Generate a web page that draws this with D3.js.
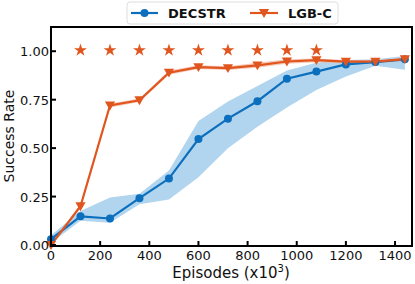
<!DOCTYPE html>
<html>
<head>
<meta charset="utf-8">
<script src="https://d3js.org/d3.v7.min.js"></script>
<style>
  body { margin: 0; background: #fff; }
  text { font-family: "DejaVu Sans", sans-serif; }
</style>
</head>
<body>
<svg id="chart" width="415" height="284"></svg>
<script>
// episodes (x10^3)
var episodes = [0, 120, 240, 360, 480, 600, 720, 840, 960, 1080, 1200, 1320, 1440];
var decstrMean = [0.03, 0.148, 0.137, 0.242, 0.343, 0.547, 0.652, 0.742, 0.858, 0.895, 0.932, 0.944, 0.958];
var decstrLow  = [0.01, 0.125, 0.115, 0.21, 0.235, 0.35, 0.50, 0.61, 0.71, 0.80, 0.87, 0.925, 0.905];
var decstrHigh = [0.05, 0.175, 0.245, 0.265, 0.385, 0.64, 0.74, 0.82, 0.90, 0.94, 0.955, 0.958, 0.975];
var lgbMean = [0.0, 0.2, 0.72, 0.747, 0.889, 0.918, 0.913, 0.927, 0.947, 0.954, 0.946, 0.946, 0.959];
var lgbLow  = [0.0, 0.19, 0.71, 0.738, 0.878, 0.908, 0.903, 0.915, 0.935, 0.943, 0.937, 0.938, 0.95];
var lgbHigh = [0.0, 0.21, 0.73, 0.756, 0.9, 0.928, 0.923, 0.94, 0.958, 0.962, 0.955, 0.953, 0.968];
var starEpisodes = [120, 240, 360, 480, 600, 720, 840, 960, 1080];
var starLevel = 1.005;
var xTicks = [0, 200, 400, 600, 800, 1000, 1200, 1400];
var yTicks = [0, 0.25, 0.5, 0.75, 1.0];

var blue = "#0c6fbd", orange = "#e0561e", bandBlue = "#a9d0ec", bandOrange = "#f2b09a";

var svg = d3.select("#chart");
var pLeft = 51, pRight = 412, pTop = 27, pBottom = 246;

var x = d3.scaleLinear().domain([0, 1469]).range([pLeft, pRight]);
var y = d3.scaleLinear().domain([-0.005, 1.125]).range([pBottom, pTop]);

var area = function (lo, hi) {
  return d3.area().x(function (d, i) { return x(episodes[i]); })
    .y0(function (d, i) { return y(lo[i]); })
    .y1(function (d, i) { return y(hi[i]); })(episodes);
};
var line = d3.line().x(function (d, i) { return x(episodes[i]); }).y(function (d) { return y(d); });

var plot = svg.append("g");
plot.append("path").attr("d", area(decstrLow, decstrHigh)).attr("fill", bandBlue).attr("opacity", 0.9);
plot.append("path").attr("d", area(lgbLow, lgbHigh)).attr("fill", bandOrange).attr("opacity", 0.7);

plot.append("path").attr("d", line(decstrMean)).attr("fill", "none").attr("stroke", blue).attr("stroke-width", 2.2);
plot.append("path").attr("d", line(lgbMean)).attr("fill", "none").attr("stroke", orange).attr("stroke-width", 2.2);

plot.selectAll(".dot").data(decstrMean).enter().append("circle")
  .attr("cx", function (d, i) { return x(episodes[i]); })
  .attr("cy", function (d) { return y(d); })
  .attr("r", 4).attr("fill", blue);

var tri = d3.symbol().type(d3.symbolTriangle).size(45);
plot.selectAll(".tri").data(lgbMean).enter().append("path")
  .attr("d", tri)
  .attr("transform", function (d, i) { return "translate(" + x(episodes[i]) + "," + (y(d) - 1) + ") rotate(180)"; })
  .attr("fill", orange);

var star = d3.symbol().type(d3.symbolStar).size(52);
plot.selectAll(".star").data(starEpisodes).enter().append("path")
  .attr("d", star)
  .attr("transform", function (d) { return "translate(" + x(d) + "," + y(starLevel) + ")"; })
  .attr("fill", orange);

// frame
svg.append("rect").attr("x", pLeft).attr("y", pTop).attr("width", pRight - pLeft).attr("height", pBottom - pTop)
  .attr("fill", "none").attr("stroke", "#000").attr("stroke-width", 2);

// ticks (inward)
var xAxis = svg.append("g");
xTicks.forEach(function (t) {
  xAxis.append("line").attr("x1", x(t)).attr("x2", x(t)).attr("y1", pBottom).attr("y2", pBottom - 5)
    .attr("stroke", "#000").attr("stroke-width", 2);
  xAxis.append("text").attr("x", x(t)).attr("y", 260).attr("text-anchor", "middle")
    .attr("font-size", 13).attr("fill", "#111").text(t);
});
var yAxis = svg.append("g");
yTicks.forEach(function (t) {
  yAxis.append("line").attr("x1", pLeft).attr("x2", pLeft + 5).attr("y1", y(t)).attr("y2", y(t))
    .attr("stroke", "#000").attr("stroke-width", 2);
  yAxis.append("text").attr("x", pLeft - 2).attr("y", y(t) + 5).attr("text-anchor", "end")
    .attr("font-size", 13).attr("fill", "#111").text(t.toFixed(2));
});

svg.append("text").attr("x", 231).attr("y", 278).attr("text-anchor", "middle").attr("font-size", 15)
  .attr("fill", "#111").html('Episodes (x10<tspan dy="-6" font-size="10">3</tspan><tspan dy="6">)</tspan>');
svg.append("text").attr("transform", "translate(14,136) rotate(-90)").attr("text-anchor", "middle")
  .attr("font-size", 14).attr("fill", "#111").text("Success Rate");

// legend
var lg = svg.append("g");
lg.append("rect").attr("x", 127).attr("y", 2).attr("width", 211).attr("height", 22).attr("rx", 3)
  .attr("fill", "#fff").attr("stroke", "#ddd").attr("stroke-width", 1);
lg.append("line").attr("x1", 131).attr("x2", 158).attr("y1", 13).attr("y2", 13).attr("stroke", blue).attr("stroke-width", 2.2);
lg.append("circle").attr("cx", 144.5).attr("cy", 13).attr("r", 4).attr("fill", blue);
lg.append("text").attr("x", 168).attr("y", 18).attr("font-size", 13).attr("font-weight", "bold").attr("fill", "#111").text("DECSTR");
lg.append("line").attr("x1", 250).attr("x2", 278).attr("y1", 13).attr("y2", 13).attr("stroke", orange).attr("stroke-width", 2.2);
lg.append("path").attr("d", tri).attr("transform", "translate(264,12) rotate(180)").attr("fill", orange);
lg.append("text").attr("x", 288).attr("y", 18).attr("font-size", 13).attr("font-weight", "bold").attr("fill", "#111").text("LGB-C");
</script>
</body>
</html>
